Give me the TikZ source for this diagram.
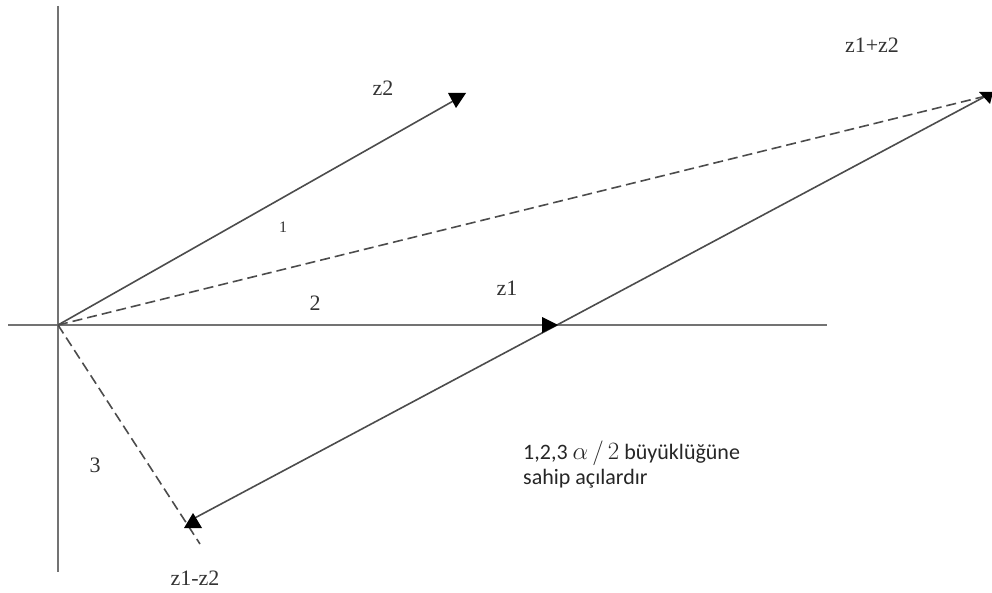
\documentclass[tikz,border=0pt]{standalone}
\usepackage{fontspec}
\setmainfont{Liberation Serif}
\newfontfamily\calfont{Carlito}
\begin{document}
\begin{tikzpicture}[x=1pt,y=-1pt,
  axisline/.style={draw=black!55,line width=1.8pt},
  vecline/.style={draw=black!70,line width=1.6pt},
  dashline/.style={draw=black!70,line width=1.6pt,dash pattern=on 10pt off 5pt},
  headfill/.style={fill=black},
  lbl/.style={font=\fontsize{22}{22}\selectfont,text=black!80,inner sep=0pt},
  small/.style={font=\fontsize{16}{16}\selectfont,text=black!80,inner sep=0pt}]
\useasboundingbox (0,0) rectangle (992,593);
% points
\coordinate (O) at (58,325);
\coordinate (yt) at (58,6);
\coordinate (yb) at (58,572);
\coordinate (xl) at (8,325);
\coordinate (xr) at (827,325);
\coordinate (Z2) at (455,100);
\coordinate (Z1) at (557,325);
\coordinate (S) at (986,96);
\coordinate (D) at (191,520);
\coordinate (De) at (200,544);
% axes
\draw[axisline] (yt) -- (yb);
\draw[axisline] (xl) -- (xr);
% vectors
\draw[vecline] (O) -- (Z2);
\draw[dashline] (O) -- (S);
\draw[vecline] (Z1) -- (S);
\draw[vecline] (Z1) -- (D);
\draw[dashline] (O) -- (De);
% arrowheads
\fill[headfill] (Z2) ++(-7,-7) -- ++(18,0) -- ++(-10,15) -- cycle;
\fill[headfill] (S) ++(-7,-4) -- ++(14,0) -- ++(-3,12) -- cycle;
\fill[headfill] (Z1) ++(-15,-8) -- ++(16,8) -- ++(-16,8) -- cycle;
\fill[headfill] (D) ++(2,-7) -- ++(9,15) -- ++(-18,0) -- cycle;
% labels
\node[lbl] (lz2) at (383,88) {z2};
\node[lbl] (lsum) at (872,45) {z1+z2};
\node[small] (l1) at (283,227) {1};
\node[lbl] (l2) at (315,303) {2};
\node[lbl] (lz1) at (507,288) {z1};
\node[lbl] (l3) at (95,465) {3};
\node[lbl] (ldiff) at (195,578) {z1-z2};
\node[anchor=base west,inner sep=0pt,text=black!85,align=left,
  font=\calfont\fontsize{22}{25}\selectfont] (note) at (523,484)
  {1,2,3 {\fontsize{29}{25}\selectfont$\alpha\,/\,2$} büyüklüğüne\\sahip açılardır};
\end{tikzpicture}
\end{document}
